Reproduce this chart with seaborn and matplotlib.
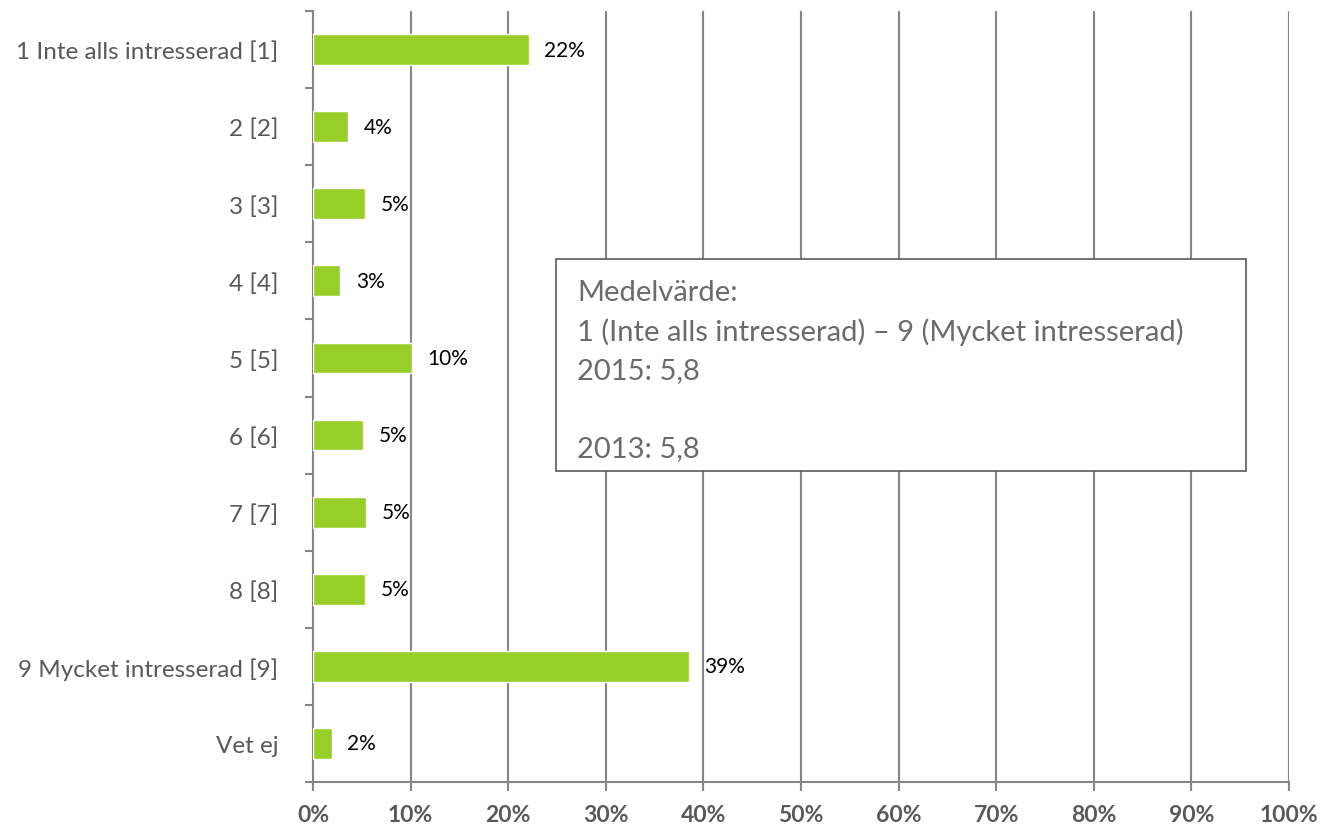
import matplotlib
matplotlib.use("Agg")
import matplotlib.pyplot as plt
import seaborn as sns
import pandas as pd
import numpy as np
from matplotlib.ticker import FixedLocator, PercentFormatter

categories = ["1 Inte alls intresserad [1]", "2 [2]", "3 [3]", "4 [4]", "5 [5]",
              "6 [6]", "7 [7]", "8 [8]", "9 Mycket intresserad [9]", "Vet ej"]
values = [22.1, 3.6, 5.3, 2.8, 10.1, 5.1, 5.4, 5.3, 38.5, 1.9]
labels = ["22%", "4%", "5%", "3%", "10%", "5%", "5%", "5%", "39%", "2%"]
box_lines = ["Medelvärde:", "1 (Inte alls intresserad) \u2013 9 (Mycket intresserad)",
             "2015: 5,8", "", "2013: 5,8"]

sns.set_style("white")
plt.rcParams['font.family'] = ['Lato', 'DejaVu Sans']
plt.rcParams['ytick.left'] = True
plt.rcParams['xtick.bottom'] = True

df = pd.DataFrame({"cat": categories, "val": values})

fig = plt.figure(figsize=(13.22, 8.29), dpi=100)
ax = fig.add_axes([0.2368, 0.0555, 0.7382, 0.93])

sns.barplot(data=df, y="cat", x="val", orient="h", color="#97CF28",
            width=0.4, saturation=1, ax=ax, zorder=3)

ax.set_xlim(0, 100)
ax.set_ylim(len(categories) - 0.5, -0.5)
ax.set_xlabel("")
ax.set_ylabel("")

grid_c = "#868686"
ax.xaxis.set_major_locator(FixedLocator(np.arange(0, 101, 10)))
ax.xaxis.set_major_formatter(PercentFormatter(decimals=0))
for x in np.arange(10, 101, 10):
    ax.axvline(x, color=grid_c, lw=1.5, zorder=1)

for s in ["top", "right"]:
    ax.spines[s].set_visible(False)
for s in ["left", "bottom"]:
    ax.spines[s].set_color(grid_c)
    ax.spines[s].set_linewidth(1.5)

ax.tick_params(axis="x", which="major", bottom=True, length=6.5, width=1.5, color=grid_c,
               direction="out", labelsize=16.5, labelcolor="#595959", pad=9)
for t in ax.get_xticklabels():
    t.set_fontweight("bold")

ax.tick_params(axis="y", which="major", left=True, length=0, labelsize=17.5,
               labelcolor="#595959", pad=25)
ax.yaxis.set_minor_locator(FixedLocator(np.arange(-0.5, len(categories), 1.0)))
ax.tick_params(axis="y", which="minor", left=True, length=6, width=1.5, color=grid_c,
               direction="out")

for i, (v, lab) in enumerate(zip(values, labels)):
    ax.text(v + 1.6, i, lab, va="center", ha="left", fontsize=15, color="black", zorder=5)

# annotation box
fig.patches.append(matplotlib.patches.Rectangle(
    (556 / 1322, 1 - 472 / 829), (1246 - 556) / 1322, (472 - 260) / 829,
    transform=fig.transFigure, facecolor="white", edgecolor="#595959", lw=1.2, zorder=10))
line_step = 39
for k, line in enumerate(box_lines):
    if line:
        fig.text(577 / 1322, 1 - (293 + k * line_step) / 829, line, va="center", ha="left",
                 fontsize=21, color="#6b6b6b", zorder=11)

fig.savefig("out.png", dpi=100)
